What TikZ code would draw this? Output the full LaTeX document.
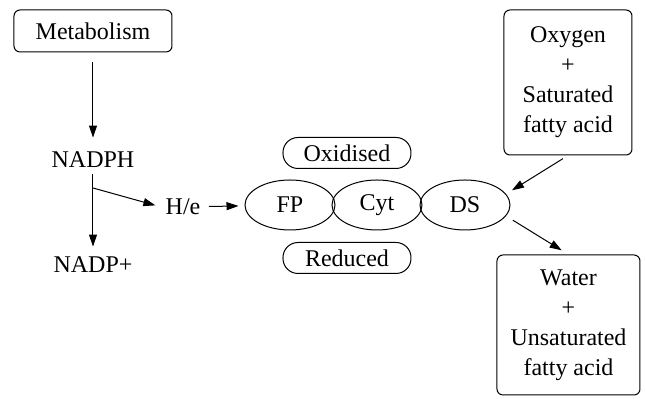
\documentclass[tikz,border=0pt]{standalone}
\usepackage{fontspec}
\setmainfont{Liberation Serif}
\usetikzlibrary{shapes.geometric,arrows.meta,positioning}

\begin{document}
\begin{tikzpicture}[
  x=0.5pt, y=-0.5pt, font=\fontsize{12}{15}\selectfont,
  line width=0.5pt, >={Triangle[length=6pt,width=4pt]},
  every node/.style={inner sep=2pt},
  box/.style={draw, rounded corners=3pt, align=center},
  enz/.style={ellipse, draw, minimum width=45pt, minimum height=25pt, inner sep=0pt},
  state/.style={draw, rounded corners=7.5pt, minimum width=64pt, minimum height=15.5pt, inner sep=0pt}
]
\useasboundingbox (0,0) rectangle (645,399);
% pathway on the left
\node[box, minimum width=79pt, minimum height=21pt] (meta) at (93,31) {Metabolism};
\node (nadph) at (93,160) {NADPH};
\node (nadp) at (93,265) {NADP+};
\node (he) at (183,207) {H/e};
% electron chain
\node[enz] (fp) at (290,205) {FP};
\node[enz] (cyt) at (377,205) {Cyt};
\node[enz] (ds) at (465,205) {DS};
\node[state] (ox) at (347,153) {Oxidised};
\node[state] (red) at (347,258) {Reduced};
% substrates and products
\node[box, minimum width=64pt, minimum height=72.5pt] (oxy) at (568,82.5)
  {Oxygen\\+\\Saturated\\fatty acid};
\node[box, minimum width=71.5pt, minimum height=70pt] (wat) at (568.5,325)
  {Water\\+\\Unsaturated\\fatty acid};

\coordinate (fork) at (93,188);
\draw[->, shorten <=5pt, shorten >=5pt] (meta) -- (nadph);
\draw[->, shorten <=1pt, shorten >=3pt] (nadph) -- (nadp);
\draw[->, shorten >=3pt] (fork) -- (he.west);
\draw[->, shorten <=2pt, shorten >=3pt] (he) -- (fp);
\draw[->, shorten <=3pt, shorten >=3.5pt] (oxy.south) -- (ds.15);
\draw[->, shorten <=4pt, shorten >=4pt] (ds.-15) -- (wat.north);
\end{tikzpicture}
\end{document}
